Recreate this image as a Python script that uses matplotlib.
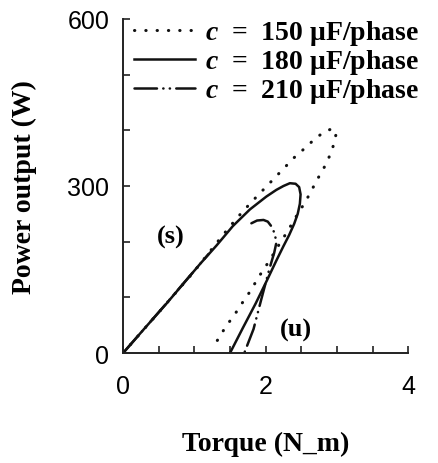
import matplotlib
matplotlib.use("Agg")
import matplotlib.pyplot as plt
import numpy as np

plt.rcParams['mathtext.fontset'] = 'custom'
plt.rcParams['mathtext.rm'] = 'Liberation Serif:bold'
plt.rcParams['mathtext.bfit'] = 'Liberation Serif:italic:bold'
plt.rcParams['mathtext.it'] = 'Liberation Serif:italic:bold'

# c = 150 uF/phase (dotted loop: upper branch out to tip, then back down)
t150 = [0, 0.5, 1.0, 1.37, 1.51, 1.65, 1.80, 1.95, 2.10, 2.25, 2.40, 2.56, 2.71, 2.85, 2.94,
        2.99, 2.97, 2.93, 2.87, 2.80, 2.72, 2.64, 2.55, 2.45, 2.35, 2.25, 2.16, 2.06,
        1.97, 1.88, 1.80, 1.72, 1.64, 1.57, 1.49, 1.41, 1.34, 1.26]
p150 = [0, 73, 147, 207, 229, 250, 271, 291, 311, 331, 351, 369, 387, 399, 403,
        395, 382, 364, 346, 328, 311, 291, 270, 250, 228, 207, 189, 167,
        150, 132, 114, 99, 84, 70, 56, 41, 26, 11]

# c = 180 uF/phase (solid loop)
t180 = [0, 0.3, 0.61, 1.08, 1.31, 1.54, 1.78, 2.01, 2.15, 2.25, 2.34, 2.42, 2.47, 2.49, 2.48,
        2.45, 2.40, 2.33, 2.25, 2.15, 2.02, 1.86, 1.68, 1.50]
p180 = [0, 44, 89, 160, 193, 228, 258, 281, 293, 300, 305, 304, 298, 285, 268,
        250, 232, 212, 192, 166, 131, 89, 45, 0]

# c = 210 uF/phase (dash-dot, lower branch and small arc)
t210 = [0, 0.6, 1.2, np.nan, 1.80, 1.88, 1.97, 2.03, 2.09, 2.13, 2.15, 2.12, 2.05, 1.94, 1.83, 1.70]
p210 = [0, 88, 178, np.nan, 233, 238, 239, 236, 226, 213, 198, 180, 150, 97, 43, 0]

xticks = [0, 2, 4]
yticks = [0, 300, 600]

fig = plt.figure(figsize=(4.38, 4.64), dpi=100)
ax = fig.add_axes([0.281, 0.237, 0.651, 0.72])

ax.plot(t150, p150, color='#111111', lw=2.2, linestyle=(0, (0.1, 3.6)),
        dash_capstyle='round', label=r'$\mathbfit{c}$  =  150 μF/phase')
ax.plot(t180, p180, color='#111111', lw=1.8, label=r'$\mathbfit{c}$  =  180 μF/phase')
ax.plot(t210, p210, color='#111111', lw=1.8, linestyle=(0, (9, 2.5, 0.1, 2.5, 0.1, 2.5)),
        dash_capstyle='round', label=r'$\mathbfit{c}$  =  210 μF/phase')

ax.text(0.67, 210, '(s)', fontsize=19, fontweight='bold', family='Liberation Serif',
        ha='center', va='center')
ax.text(2.43, 43, '(u)', fontsize=19, fontweight='bold', family='Liberation Serif',
        ha='center', va='center')

ax.set_xlim(0, 4)
ax.set_ylim(0, 600)
ax.set_xticks(xticks)
ax.set_yticks(yticks)
ax.set_xticks(np.arange(0, 4.01, 0.5), minor=True)
ax.set_yticks(np.arange(0, 601, 100), minor=True)
ax.set_xticklabels([str(v) for v in xticks], family='Liberation Sans', fontsize=18)
ax.set_yticklabels([str(v) for v in yticks], family='Liberation Sans', fontsize=18)
ax.tick_params(which='both', direction='in', length=5, width=1.2, color='#222222')
ax.tick_params(axis='x', pad=15)
ax.tick_params(axis='y', pad=10)

for s in ['top', 'right']:
    ax.spines[s].set_visible(False)
for s in ['left', 'bottom']:
    ax.spines[s].set_linewidth(1.4)
    ax.spines[s].set_color('#222222')

ax.set_xlabel('Torque (N_m)', family='Liberation Serif', fontweight='bold', fontsize=20,
              labelpad=24)
ax.set_ylabel('Power output (W)', family='Liberation Serif', fontweight='bold', fontsize=20,
              labelpad=22)

leg = ax.legend(loc='upper left', bbox_to_anchor=(0.0, 1.035), frameon=False,
                prop={'family': 'Liberation Serif', 'weight': 'bold', 'size': 20},
                handlelength=2.2, handletextpad=0.35, labelspacing=0.0,
                borderaxespad=0.0)

fig.savefig('out.png', dpi=100)
